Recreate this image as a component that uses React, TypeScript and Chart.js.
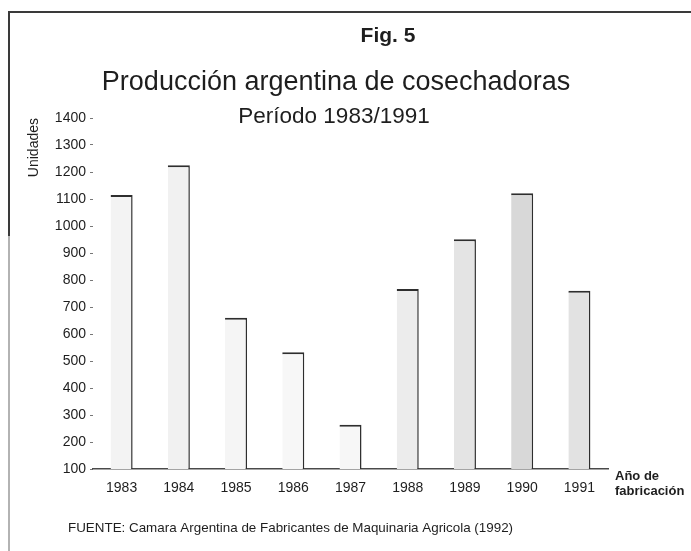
import React, { useEffect, useRef } from "react";
import { Chart, registerables } from "chart.js";

Chart.register(...registerables);

// ---- data ----
const years = ["1983", "1984", "1985", "1986", "1987", "1988", "1989", "1990", "1991"];
const units = [1115, 1225, 660, 532, 264, 767, 951, 1121, 760];
const yMin = 100;
const yMax = 1400;
const yStep = 100;

// ---- texts ----
const figLabel = "Fig. 5";
const titleText = "Producción argentina de cosechadoras";
const subtitleText = "Período 1983/1991";
const yAxisTitle = "Unidades";
const xAxisTitle = ["Año de", "fabricación"];
const sourceText = "FUENTE: Camara Argentina de Fabricantes de Maquinaria Agricola (1992)";

// ---- styles ----
const FONT = "'Liberation Sans', Arial, Helvetica, sans-serif";
const barFills = ["#f3f3f3", "#f1f1f1", "#f5f5f5", "#f7f7f7", "#f7f7f7", "#ececec", "#e4e4e4", "#d8d8d8", "#e2e2e2"];
const INK = "#1e1e1e";

const decorPlugin = {
  id: "decor",
  afterDraw(chart: any) {
    const { ctx, width, height } = chart;
    ctx.save();
    // frame
    ctx.lineCap = "butt";
    ctx.strokeStyle = "#3a3a3a";
    ctx.lineWidth = 2;
    ctx.beginPath();
    ctx.moveTo(8, 12);
    ctx.lineTo(width, 12);
    ctx.stroke();
    ctx.beginPath();
    ctx.moveTo(9, 11);
    ctx.lineTo(9, 236);
    ctx.stroke();
    ctx.strokeStyle = "#9a9a9a";
    ctx.lineWidth = 1.5;
    ctx.beginPath();
    ctx.moveTo(9, 236);
    ctx.lineTo(9, height);
    ctx.stroke();

    ctx.fillStyle = INK;
    ctx.textBaseline = "alphabetic";
    ctx.textAlign = "center";
    ctx.font = `bold 21px ${FONT}`;
    ctx.fillText(figLabel, 388, 42);
    ctx.font = `27px ${FONT}`;
    ctx.fillText(titleText, 336, 90);
    ctx.font = `22.5px ${FONT}`;
    ctx.fillText(subtitleText, 334, 123);

    ctx.textAlign = "left";
    ctx.font = `bold 13px ${FONT}`;
    ctx.fillText(xAxisTitle[0], 615, 480);
    ctx.fillText(xAxisTitle[1], 615, 495);

    ctx.font = `13.4px ${FONT}`;
    ctx.fillText(sourceText, 68, 532);
    ctx.restore();
  },
};

export default function App() {
  const ref = useRef<HTMLCanvasElement | null>(null);

  useEffect(() => {
    if (!ref.current) return;
    const chart = new Chart(ref.current, {
      type: "bar",
      data: {
        labels: years,
        datasets: [
          {
            label: yAxisTitle,
            data: units,
            backgroundColor: barFills,
            borderColor: "#2e2e2e",
            borderWidth: { top: 2, right: 1.5, left: 0, bottom: 0 },
            borderSkipped: false,
            barPercentage: 0.385,
            categoryPercentage: 1,
          },
        ],
      },
      options: {
        responsive: false,
        animation: false,
        layout: { padding: { left: 0, right: 83, top: 118, bottom: 52 } },
        plugins: {
          legend: { display: false },
          tooltip: { enabled: false },
          title: { display: false },
        },
        scales: {
          x: {
            offset: true,
            grid: { display: false, drawTicks: false },
            border: { display: true, color: "#4a4a4a", width: 1.5 },
            ticks: { color: INK, font: { family: FONT, size: 14 }, padding: 11 },
            afterFit: (s: any) => {
              s.height = 30;
            },
          },
          y: {
            min: yMin,
            max: yMax,
            ticks: {
              stepSize: yStep,
              color: INK,
              font: { family: FONT, size: 14 },
              padding: 4,
              callback: (v: any) => String(v),
            },
            grid: { drawOnChartArea: false, drawTicks: true, tickLength: 3, color: "#777", lineWidth: 1 },
            border: { display: false },
            title: {
              display: true,
              text: yAxisTitle,
              align: "end",
              color: INK,
              font: { family: FONT, size: 14 },
              padding: { top: 25.6, bottom: 0 },
            },
            afterFit: (s: any) => {
              s.width = 93;
            },
          },
        },
      },
      plugins: [decorPlugin],
    });
    return () => chart.destroy();
  }, []);

  return (
    <div style={{ position: "absolute", left: 0, top: 0, width: 691, height: 551 }}>
      <canvas ref={ref} width={691} height={551} style={{ display: "block" }} />
    </div>
  );
}
